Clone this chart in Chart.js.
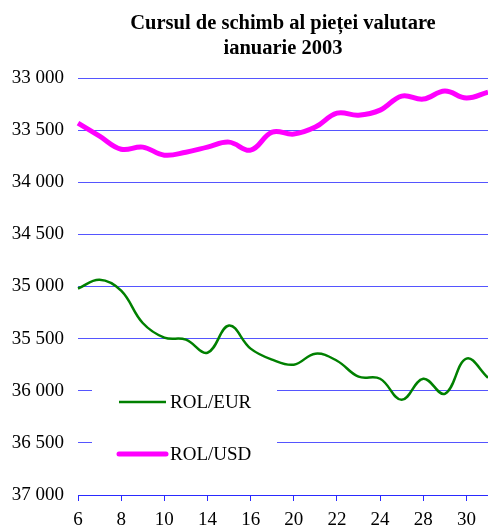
<!DOCTYPE html>
<html>
<head>
<meta charset="utf-8">
<script src="https://cdn.jsdelivr.net/npm/chart.js@4/dist/chart.umd.min.js"></script>
<style>
html,body{margin:0;padding:0;background:#fff;}
#wrap{width:488px;height:528px;}
</style>
</head>
<body>
<div id="wrap"><canvas id="c" width="488" height="528"></canvas></div>
<script>
const days = ['6','7','8','9','10','13','14','15','16','17','20','21','22','23','24','27','28','29','30','31'];
const rolEur = [35019,34935,35040,35350,35490,35510,35635,35375,35596,35702,35750,35644,35712,35865,35885,36087,35885,36029,35692,35875];
const rolUsd = [33433,33558,33683,33663,33740,33712,33663,33615,33692,33519,33538,33471,33337,33356,33308,33173,33202,33125,33192,33135];
const titleLines = ['Cursul de schimb al pieței valutare','ianuarie 2003'];
const seriesNames = ['ROL/EUR','ROL/USD'];

const FONT = '"Liberation Serif", "Times New Roman", serif';

const legendPlugin = {
  id: 'boxLegend',
  beforeDatasetsDraw(chart) {
    const ctx = chart.ctx;
    const a = chart.chartArea;
    const x0 = a.left + 14, y0 = 378, w = 185, h = 86;
    ctx.save();
    ctx.fillStyle = '#ffffff';
    ctx.fillRect(x0, y0, w, h);
    ctx.restore();
  },
  afterDatasetsDraw(chart) {
    const ctx = chart.ctx;
    const a = chart.chartArea;
    const items = chart.data.datasets;
    const ys = [402, 454];
    ctx.save();
    items.forEach((ds, i) => {
      ctx.strokeStyle = ds.borderColor;
      ctx.lineWidth = ds.borderWidth;
      ctx.lineCap = i === 1 ? 'round' : 'butt';
      ctx.beginPath();
      ctx.moveTo(a.left + 41, ys[i]);
      ctx.lineTo(a.left + 88, ys[i]);
      ctx.stroke();
      ctx.fillStyle = '#000';
      ctx.font = '19px ' + FONT;
      ctx.textBaseline = 'middle';
      ctx.textAlign = 'left';
      ctx.fillText(ds.label, a.left + 92, ys[i] + 1);
    });
    ctx.restore();
  }
};

new Chart(document.getElementById('c'), {
  type: 'line',
  data: {
    labels: days,
    datasets: [
      { label: seriesNames[0], data: rolEur, borderColor: '#008000', borderWidth: 2.5, pointRadius: 0, tension: 0.4, fill: false },
      { label: seriesNames[1], data: rolUsd, borderColor: '#ff00ff', borderWidth: 5, pointRadius: 0, tension: 0.4, fill: false }
    ]
  },
  options: {
    responsive: false,
    animation: false,
    layout: { padding: { left: 0, right: 0, top: 0, bottom: 0 } },
    plugins: {
      legend: { display: false },
      tooltip: { enabled: false },
      title: {
        display: true,
        text: titleLines,
        fullSize: false,
        color: '#000',
        font: { family: FONT, size: 20.5, weight: 'bold', lineHeight: 1.22 },
        padding: { top: 11, bottom: 17 }
      }
    },
    scales: {
      x: {
        type: 'category',
        offset: false,
        afterBuildTicks: (axis) => { axis.ticks = axis.ticks.filter((t, i) => i % 2 === 0); },
        afterFit: (axis) => { axis.height = 33; },
        grid: { display: true, drawOnChartArea: false, drawTicks: true, tickLength: 6, color: '#2a2aff', lineWidth: 1 },
        border: { display: true, color: '#2a2aff', width: 1 },
        ticks: { autoSkip: false, maxRotation: 0, color: '#000', padding: 8, font: { family: FONT, size: 19 } }
      },
      y: {
        reverse: true,
        min: 33000,
        max: 37000,
        afterFit: (axis) => { axis.width = 78; },
        ticks: {
          stepSize: 500,
          color: '#000',
          padding: 14,
          font: { family: FONT, size: 19 },
          callback: (v) => { const s = String(v); return s.slice(0, s.length - 3) + ' ' + s.slice(-3); }
        },
        grid: { color: '#5555ff', lineWidth: 1, drawTicks: false },
        border: { display: false }
      }
    }
  },
  plugins: [legendPlugin]
});
</script>
</body>
</html>
